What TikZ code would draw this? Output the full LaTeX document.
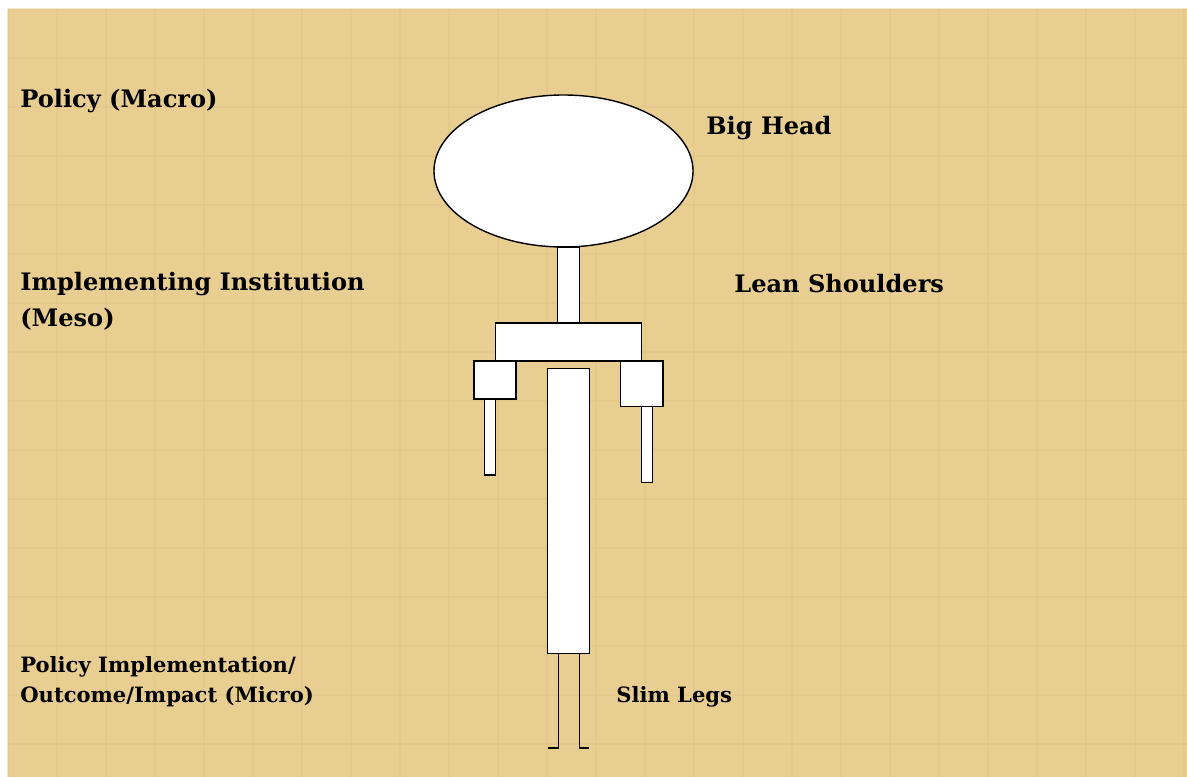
\documentclass[tikz,border=0pt]{standalone}
\usepackage{fontspec}
\setmainfont{DejaVu Serif}
\definecolor{parch}{RGB}{233,206,146}
\definecolor{parchline}{RGB}{222,192,130}
\begin{document}
\begin{tikzpicture}[x=0.02cm,y=-0.02cm,
  body/.style={draw=black,fill=white,line width=0.8pt},
  leg/.style={draw=black,line width=0.8pt},
  big/.style={anchor=west,inner sep=0pt,font=\bfseries\fontsize{13.7}{17}\selectfont,align=left},
  small/.style={anchor=west,inner sep=0pt,font=\bfseries\fontsize{12}{17}\selectfont,align=left}]
\useasboundingbox (0,0) rectangle (1187,777);
\fill[white] (0,0) rectangle (1187,777);
\fill[parch] (8,9) rectangle (1187,777);
\foreach \i in {0,...,24} {
  \draw[parchline,line width=1.5pt,opacity=0.35] (8+\i*49,9) -- (8+\i*49,777);
}
\foreach \j in {0,...,15} {
  \draw[parchline,line width=1.5pt,opacity=0.35] (8,9+\j*49) -- (1187,9+\j*49);
}
% head
\draw[body] (563.5,171) ellipse [x radius=129.5,y radius=76];
% neck
\draw[body] (557.7,247) rectangle (579.3,323);
% shoulders
\draw[body] (495.3,323) rectangle (641.7,361);
% left arm
\draw[body] (474,361) rectangle (516,399);
\draw[body] (484.7,399) rectangle (495.3,475);
% right arm
\draw[body] (620.7,361) rectangle (663,406.3);
\draw[body] (641.7,406.3) rectangle (652.7,482.3);
% torso
\draw[body] (547.3,368.3) rectangle (589.7,653.3);
% legs
\draw[leg] (558.3,653.3) -- (558.3,748) -- (547.7,748);
\draw[leg] (579.3,653.3) -- (579.3,748) -- (589.3,748);
% labels
\node[big] (macro) at (20,101) {Policy (Macro)};
\node[big] (head) at (706,128) {Big Head};
\node[big] (meso) at (20,284) {Implementing Institution};
\node[big] (meso2) at (20,319) {(Meso)};
\node[big] (shoulders) at (734,284) {Lean Shoulders};
\node[small] (micro) at (20,667) {Policy Implementation/};
\node[small] (micro2) at (20,697) {Outcome/Impact (Micro)};
\node[small] (legs) at (616,697) {Slim Legs};
\end{tikzpicture}
\end{document}
